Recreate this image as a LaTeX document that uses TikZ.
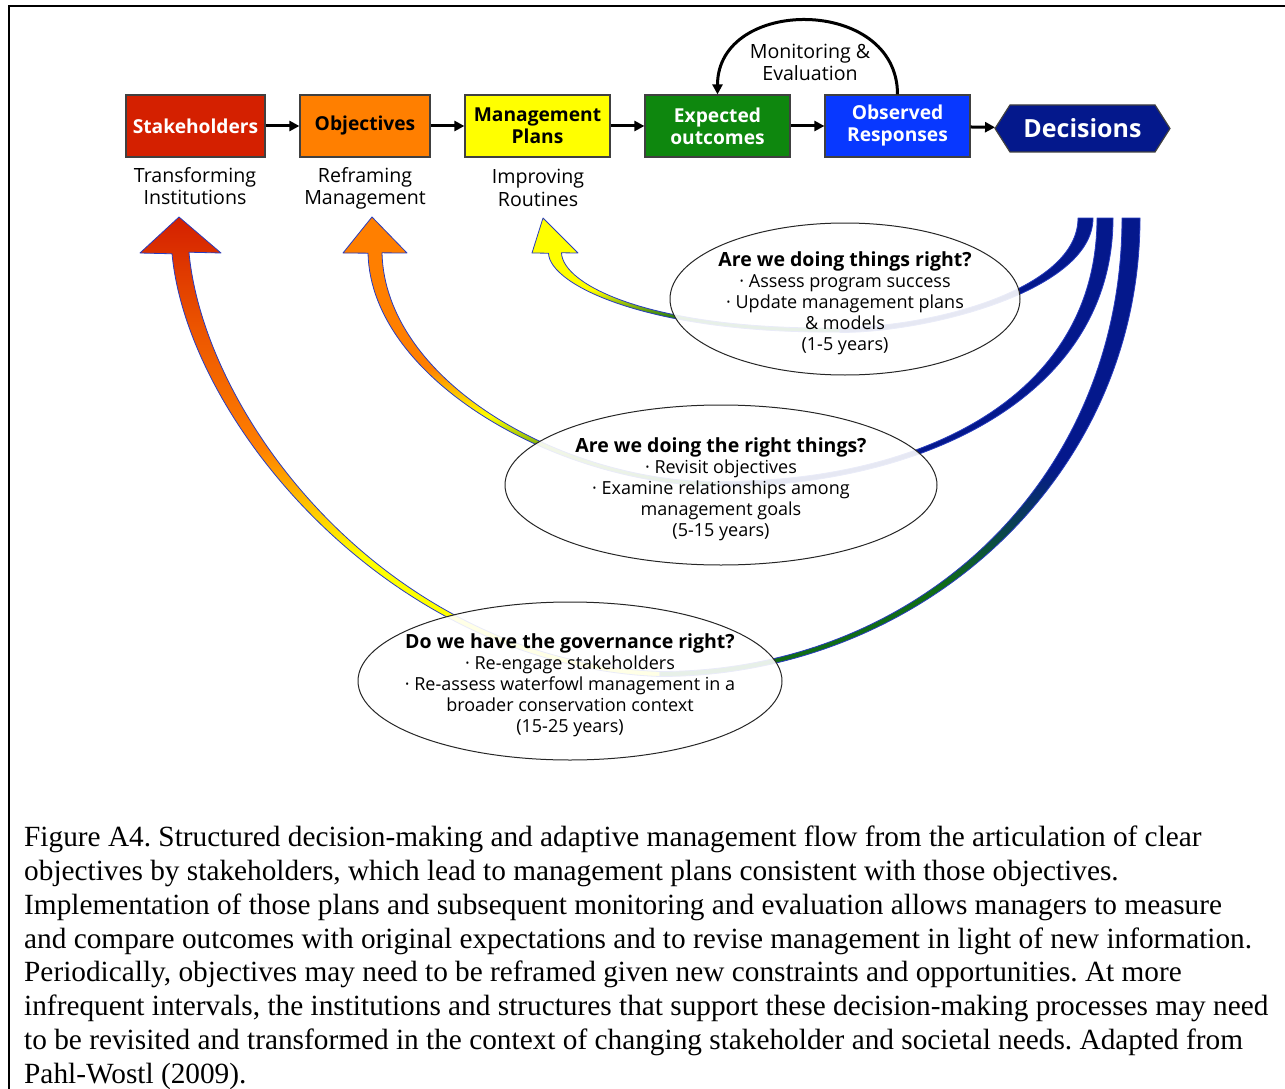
\documentclass[tikz,border=0pt]{standalone}
\usepackage{fontspec}
\setmainfont{Liberation Serif}
\newfontfamily\lucida{Open Sans}
\usepackage{tikz}
\usetikzlibrary{arrows.meta}
\usetikzlibrary{calc}
\usetikzlibrary{shapes.geometric}
\usetikzlibrary{shapes.symbols}

\definecolor{shred}{RGB}{212,32,0}
\definecolor{objorange}{RGB}{255,127,0}
\definecolor{mpyellow}{RGB}{255,255,0}
\definecolor{expgreen}{RGB}{14,135,14}
\definecolor{obsblue}{RGB}{8,56,255}
\definecolor{decnavy}{RGB}{4,24,140}
\definecolor{ribgreen}{RGB}{16,108,22}
\definecolor{ribline}{RGB}{40,60,190}
\colorlet{redorange}{shred!45!objorange}
\colorlet{yellowgreen}{mpyellow!50!ribgreen}

% colour runs of the bands, bottom (25bp) to top (75bp) of each band
\pgfdeclareverticalshading{redband}{100bp}{color(0bp)=(mpyellow); color(25bp)=(mpyellow); color(38bp)=(mpyellow);
  color(50bp)=(objorange); color(63bp)=(redorange); color(75bp)=(shred); color(100bp)=(shred)}
\pgfdeclareverticalshading{orangeband}{100bp}{color(0bp)=(ribgreen); color(25bp)=(ribgreen); color(33bp)=(yellowgreen);
  color(38bp)=(mpyellow); color(47bp)=(objorange); color(75bp)=(objorange); color(100bp)=(objorange)}
\pgfdeclareverticalshading{yellowband}{100bp}{color(0bp)=(ribgreen); color(25bp)=(ribgreen); color(31bp)=(ribgreen);
  color(44bp)=(mpyellow); color(75bp)=(mpyellow); color(100bp)=(mpyellow)}
\pgfdeclareverticalshading{navyband}{100bp}{color(0bp)=(ribgreen); color(25bp)=(ribgreen); color(35bp)=(ribgreen);
  color(48bp)=(decnavy); color(75bp)=(decnavy); color(100bp)=(decnavy)}

% tapered band along a cubic: style, P0, P1, P2, P3, half width at P0, half width at P3, extra path
\newcommand{\taper}[8]{%
  \path[#1] ($(#2)!#6!90:(#3)$) .. controls ($(#3)!#6!-90:(#2)$) and ($(#4)!#7!90:(#5)$) .. ($(#5)!#7!-90:(#4)$)
    -- ($(#5)!#7!90:(#4)$) .. controls ($(#4)!#7!-90:(#5)$) and ($(#3)!#6!90:(#2)$) .. ($(#2)!#6!-90:(#3)$) #8 -- cycle;}
\newcommand{\qtitle}[1]{{\bfseries\fontsize{19.5}{21}\selectfont #1}}

\tikzset{
  stage/.style={draw=black!75, line width=1.2pt, minimum height=62pt, inner sep=1pt, align=center,
    font=\lucida\bfseries\fontsize{19.2}{22}\selectfont},
  question/.style={ellipse, draw=black!85, line width=1pt, fill=white, fill opacity=0.9, inner sep=0pt},
  qtext/.style={align=center, inner sep=0pt, font=\lucida\fontsize{18}{21}\selectfont},
  loopnote/.style={align=center, font=\lucida\fontsize{19.6}{22.5}\selectfont},
  flow/.style={-{Triangle[length=10pt,width=10pt]}, line width=3pt},
  ribedge/.style={draw=ribline, line width=0.8pt, line join=round},
}

\begin{document}
\begin{tikzpicture}[x=1pt, y=1pt]
    \useasboundingbox (0,0) rectangle (1285,-1089);
    \draw[line width=2pt] (9,-1089) -- (9,-6) -- (1285,-6);

    % feedback bands, drawn under the question ellipses
    \taper{ribedge, shade, shading=redband}
        {180.5,-253}{196,-420}{390,-664}{660,-674}{8.5pt}{2.5pt}{-- (140,-253) -- (179,-217) -- (221,-253)}
    \taper{ribedge, shade, shading=navyband}
        {660,-674}{920,-674}{1131,-478}{1131,-218}{2.5pt}{9pt}{}
    \taper{ribedge, shade, shading=orangeband}
        {375,-253}{378,-380}{560,-484}{720,-484}{7pt}{2pt}{-- (343,-253) -- (372,-217) -- (407,-253)}
    \taper{ribedge, fill=decnavy}
        {720,-484}{920,-484}{1105,-398}{1105,-218}{2.5pt}{8pt}{}
    \taper{ribedge, shade, shading=yellowband}
        {555,-253}{556,-285}{650,-332}{840,-330}{6.5pt}{2pt}{-- (532,-253) -- (543,-218) -- (578,-253)}
    \taper{ribedge, fill=decnavy}
        {840,-330}{930,-330}{1085.5,-290}{1085.5,-218}{2.5pt}{7.5pt}{}

    % questions
    \node[question, minimum width=350pt, minimum height=152pt] (qthings) at (845,-299) {};
    \node[qtext] (qthingstext) at ([yshift=-4pt]qthings.center)
        {\qtitle{Are we doing things right?}\\ · Assess program success\\ · Update management plans\\ \& models\\ (1-5 years)};
    \node[question, minimum width=432pt, minimum height=160pt] (qright) at (721,-485) {};
    \node[qtext] (qrighttext) at ([yshift=-4pt]qright.center)
        {\qtitle{Are we doing the right things?}\\ · Revisit objectives\\ · Examine relationships among\\ management goals\\ (5-15 years)};
    \node[question, minimum width=424pt, minimum height=158pt] (qgov) at (570,-681) {};
    \node[qtext] (qgovtext) at ([yshift=-4pt]qgov.center)
        {\qtitle{Do we have the governance right?}\\ · Re-engage stakeholders\\ · Re-assess waterfowl management in a\\ broader conservation context\\ (15-25 years)};

    % stages
    \node[stage, fill=shred, text=white, minimum width=139pt] (sh) at (195.5,-126) {Stakeholders};
    \node[stage, fill=objorange, minimum width=130pt] (obj) at (365,-126) {Objectives};
    \node[stage, fill=mpyellow, minimum width=145pt] (mp) at (537.5,-126) {Management\\ Plans};
    \node[stage, fill=expgreen, text=white, minimum width=145pt] (exp) at (717.5,-126) {Expected\\ outcomes};
    \node[stage, fill=obsblue, text=white, minimum width=145pt] (obs) at (897.5,-126) {Observed\\ Responses};
    \node[signal, signal to=east and west, signal pointer angle=115, draw=black!75, line width=1.2pt,
        fill=decnavy, text=white, minimum width=175pt, minimum height=47pt, inner sep=1pt,
        font=\lucida\bfseries\fontsize{25}{28}\selectfont] (dec) at (1082.5,-128.5) {Decisions};

    \draw[flow] (sh) -- (obj);
    \draw[flow] (obj) -- (mp);
    \draw[flow] (mp) -- (exp);
    \draw[flow] (exp) -- (obs);
    \draw[flow] (obs) -- (dec);
    \draw[flow] (obs.north) to[out=90, in=90, looseness=1.4] (exp.north);

    \node[loopnote] (monitor) at (810,-62.5) {Monitoring \&\\ Evaluation};
    \node[loopnote, anchor=north, inner sep=0pt] (transform) at (195,-167) {Transforming\\ Institutions};
    \node[loopnote, anchor=north, inner sep=0pt] (reframe) at (365,-167) {Reframing\\ Management};
    \node[loopnote, anchor=north, inner sep=0pt] (improve) at (538,-169) {Improving\\ Routines};

    \node[anchor=north west, align=left, inner sep=0pt, font=\frenchspacing\fontsize{29.3}{33.75}\selectfont] (caption) at (24,-826)
        {Figure A4. Structured decision-making and adaptive management flow from the articulation of clear\\
         objectives by stakeholders, which lead to management plans consistent with those objectives.\\
         Implementation of those plans and subsequent monitoring and evaluation allows managers to measure\\
         and compare outcomes with original expectations and to revise management in light of new information.\\
         Periodically, objectives may need to be reframed given new constraints and opportunities. At more\\
         infrequent intervals, the institutions and structures that support these decision-making processes may need\\
         to be revisited and transformed in the context of changing stakeholder and societal needs. Adapted from\\
         Pahl-Wostl (2009).};
\end{tikzpicture}
\end{document}
